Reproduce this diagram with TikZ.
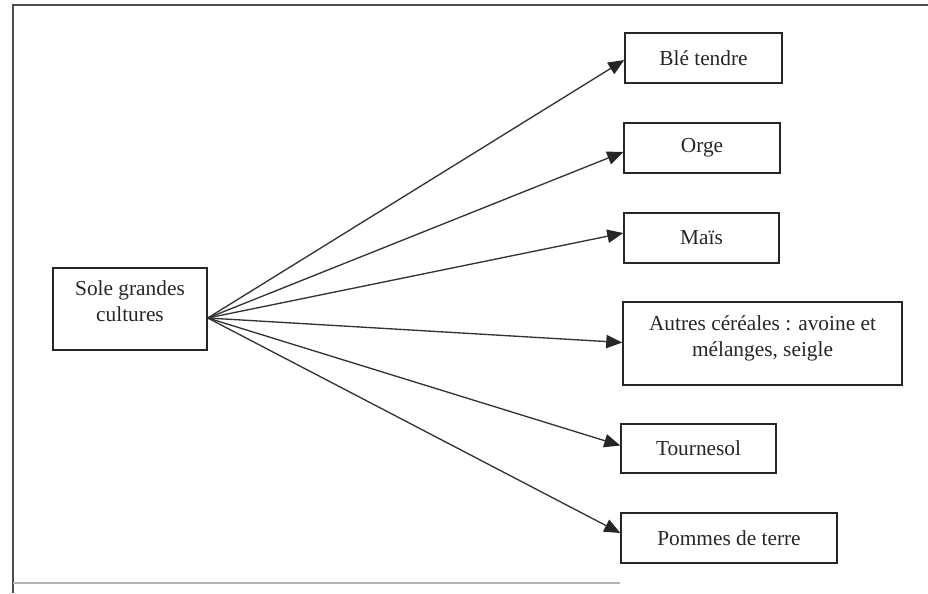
\documentclass[tikz,border=0pt]{standalone}
\usepackage{fontspec}
\setmainfont{Liberation Serif}
\usetikzlibrary{arrows.meta,calc}
\begin{document}
\begin{tikzpicture}[x=0.75pt,y=-0.75pt,
  box/.style={draw=black!85,line width=1.1pt,rectangle,inner sep=0pt,align=center,
    font=\fontsize{16}{19.5}\selectfont,text=black!85},
  link/.style={draw=black!80,line width=1pt,-{Triangle[length=12pt,width=10pt,color=black!85,fill=black!85]}},
  frame/.style={draw=black!70,line width=1.3pt}]
\useasboundingbox (0,0) rectangle (928,593);
% frame
\coordinate (ftl) at (13,5);
\coordinate (ftr) at (928,5);
\coordinate (fbl) at (13,593);
\coordinate (fbr) at (620,583);
\draw[frame] (ftr) -- (ftl) -- (fbl);
\draw[draw=black!30,line width=0.8pt] (13,583) -- (fbr);
% nodes
\node[box,minimum width=154*0.75pt,minimum height=82*0.75pt,text depth=12pt] (sole) at (130,309) {Sole grandes\\cultures};
\node[box,minimum width=157*0.75pt,minimum height=50*0.75pt] (ble) at (703.5,58) {Blé tendre};
\node[box,minimum width=156*0.75pt,minimum height=50*0.75pt] (orge) at (702,148) {Orge};
\node[box,minimum width=155*0.75pt,minimum height=50*0.75pt] (mais) at (701.5,238) {Maïs};
\node[box,minimum width=279*0.75pt,minimum height=83*0.75pt,text depth=11pt] (autres) at (762.5,343.5) {Autres céréales : avoine et\\mélanges, seigle};
\node[box,minimum width=155*0.75pt,minimum height=49*0.75pt] (tourn) at (698.5,448.5) {Tournesol};
\node[box,minimum width=216*0.75pt,minimum height=50*0.75pt] (pommes) at (729,538) {Pommes de terre};
% connectors
\coordinate (src) at ($(sole.east)+(0,9)$);
\draw[link] (src) -- ($(ble.west)+(0,2)$);
\draw[link] (src) -- ($(orge.west)+(0,4)$);
\draw[link] (src) -- ($(mais.west)+(0,-5)$);
\draw[link] (src) -- ($(autres.west)+(0,-1)$);
\draw[link] (src) -- ($(tourn.west)+(0,-3)$);
\draw[link] (src) -- ($(pommes.west)+(0,-5)$);
\end{tikzpicture}
\end{document}
